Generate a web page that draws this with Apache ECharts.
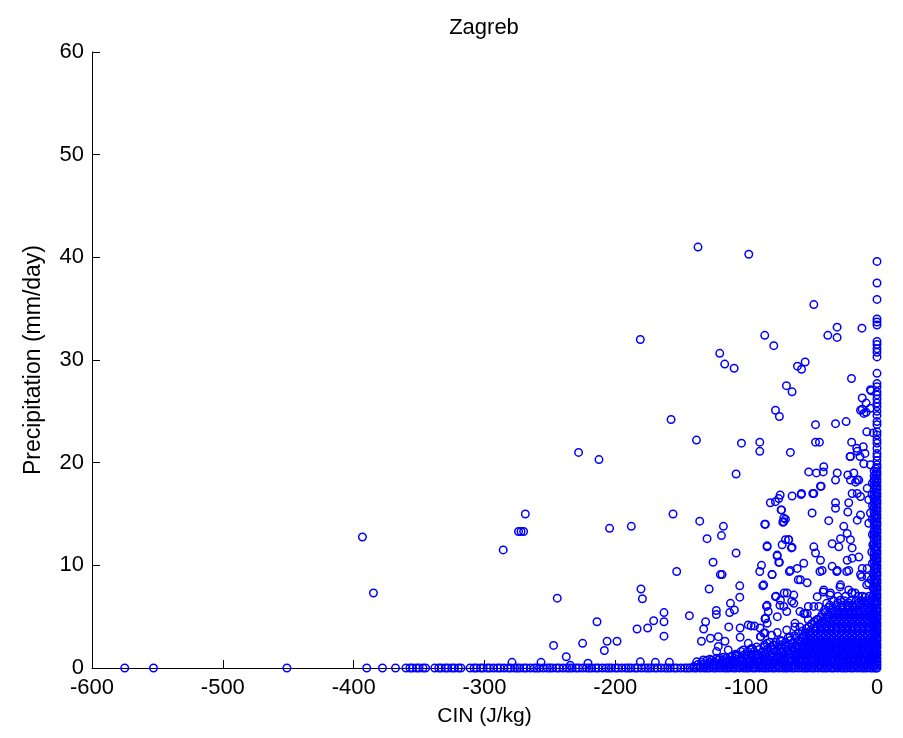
<!DOCTYPE html>
<html><head><meta charset="utf-8">
<script src="https://cdn.jsdelivr.net/npm/echarts@6/dist/echarts.min.js"></script>
<style>html,body{margin:0;padding:0;background:#fff}#c{width:903px;height:738px}</style>
</head><body><div id="c"></div>
<script>
const chartTitle = 'Zagreb';
const xName = 'CIN (J/kg)';
const yName = 'Precipitation (mm/day)';
const xRange = [-600, 0, 100];
const yRange = [0, 60, 10];

// CIN of days with zero precipitation
const zeroPrecipCIN = [-575,-553,-451,-390,-378,-368,-360,-357,
 -355,-352,-350,-347,-345,
 -338,-335,-333,-330,-328,-325,-323,-320,-318,
 -311,-308,-306,-303,-301,-298,-296,-293,
 -290,-288,-285,-282,-280,-277,-275,-273,-270,-268,-265,-262,-260,-258,-255,-252,-250,-248,-245,-243,-240,-237,-235,-233,-230,-228,-225,-222,-220,-218,-215,-213,-210,-207,-205,-203,-200,-198,-195,-192,-190,-188,-185,-183,-180,-177,-175,-173,-170,-168,-165,-162,-160,-158,-155,-153,-150,-147,-145,-143,-140,-138,-135,-132,-130,-128,-125,-123,-120,-117,-115,-113,-110,-108,-105,-102,-100,-98,-95,-93,-90,-87,-85,-83,-80,-78,-75,-72,-70,-68,-65,-63,-60,-57,-55,-53,-50,-48,-45,-42,-40,-38,-35,-33,-30,-27,-25,-23,-20,-18,-15,-12,-10,-8,-5,-3,-1];

// precipitation of days with CIN ~ 0
const zeroCINPrecip = [39.6,37.5,35.9,34.0,33.7,33.4,31.8,31.5,31.1,30.75,30.3,28.7,27.7,27.4,26.9,26.6,26.2,25.8,25.45,25.0,24.6,24.0,23.7,23.0,22.7,22.2,21.9,21.4,20.9,20.6,20.2,19.8,19.5,
 19.1,18.8,18.4,18.1,17.7,17.4,17.0,16.7,16.3,16.0,15.6,15.3,14.9,14.6,14.2,13.9,13.5,13.2,12.8,12.5,12.1,11.8,11.4,11.1,10.7,10.4,10.0,9.7,9.3,9.0,8.6,8.3,7.9,7.6,7.2,6.9,6.5,6.2,5.8,5.5,5.1,4.8,4.4,4.1,3.7,3.4,3.0,2.7,2.3,2.0,1.6,1.3,0.9,0.6,0.3,0];

// precipitation of days with CIN about -1 J/kg
const cinMinus1Precip = [19.4,18.9,18.5,18.0,17.6,17.1,16.7,16.2,15.8,15.4,14.9,14.5,14.0,13.6,13.1,12.7,12.3,11.8,11.4,10.9,10.5,10.0,9.6,9.2,8.7,8.3,7.8,7.4,6.9,6.5,6.1,5.6,5.2,4.7,4.3,3.8,3.4,3.0,2.5,2.1,1.6,1.2,0.8,0.4];

// precipitation of days with CIN about -2 J/kg
const cinMinus2Precip = [19.2,18.7,18.3,17.8,17.4,16.9,16.5,16.1,15.6,15.2,14.8,14.3,13.9,13.4,13.0,12.6,12.1,11.7,11.2,10.8,10.4,9.9,9.5,9.0,8.6,8.2,7.7,7.3,6.8,6.4,6.0,5.5,5.1,4.6,4.2,3.8,3.3,2.9,2.4,2.0,1.6,1.1,0.7,0.3];

// scattered days [CIN, precipitation]
const scatterPoints = [
 [-136.8,41.0],[-98.0,40.3],[-48.3,35.4],[-30.5,33.2],[-11.5,33.1],[-37.6,32.4],[-30.5,32.2],[-180.9,32.0],[-85.8,32.4],[-78.9,31.4],
 [-120.2,30.65],[-116.4,29.6],[-109.2,29.2],[-60.8,29.4],[-57.7,29.1],[-54.9,29.8],[-19.5,28.2],[-69.2,27.5],[-64.9,26.9],[-4.5,27.0],
 [-11.3,26.3],[-8.3,25.8],[-11.3,25.2],[-8.3,24.9],[-77.6,25.1],[-74.6,24.5],[-157.4,24.2],[-47.0,23.7],[-31.7,23.8],[-23.6,24.0],
 [-228.1,21.0],[-212.5,20.3],[-268.8,15.0],[-274.0,13.3],[-272.1,13.3],[-270.1,13.3],[-285.7,11.5],[-204.4,13.6],[-244.4,6.8],[-214,4.5],
 [-247.2,2.2],[-225,2.4],[-237.5,1.1],[-206.3,2.6],[-208.4,1.7],[-198.7,2.6],[-279,0.55],[-256.8,0.55],[-220.9,0.46],[-234.4,0.26],
 [-393.3,12.76],[-384.9,7.3],
 [-138.0,22.2],[-103.6,21.9],[-89.6,22.0],[-89.6,21.1],[-66.2,21.0],[-47.0,22.0],[-44.0,22.0],[-107.7,18.9],[-155.9,15.0],[-187.8,13.8],
 [-135.5,14.3],[-117.4,13.8],[-118.9,12.9],[-129.9,12.6],[-107.7,11.2],[-153.1,9.4],[-180.4,7.7],[-179.3,6.75],[-125.3,10.3],[-119.7,9.1],
 [-118.4,9.1],[-128.3,7.7],[-104.9,8.0],[-104.9,6.9],[-112.0,6.3],[-109.0,5.65],[-112.6,5.4],[-143.4,5.1],[-162.8,5.4],[-162.8,4.5],
 [-162.8,3.1],[-170.7,4.6],[-175.3,3.9],[-183.4,3.8],[-122.8,5.6],[-122.8,5.2],[-131,4.5],[-132.5,3.8],[-134.2,2.6],[-127.3,2.9],
 [-180.9,0.6],[-169.4,0.55],[-158.7,0.55],[-96.2,4.1],[-93.7,4.1],[-98.4,4.2],[-104.6,3.9],[-104.6,3.0],[-113.3,4.0],
 [-85.8,14.0],[-84.0,11.9],[-87.3,8.0],[-88.3,10.0],[-89.6,9.4],[-80.2,9.1],[-76.3,11.0],[-74.6,10.3],[-72.5,12.0],[-65.4,11.7],
 [-67.5,12.5],[-73.0,15.4],[-70.0,14.5],[-72.0,14.2],[-81.5,16.1],[-75.1,16.5],[-74.0,16.85],[-64.9,16.75],[-57.7,17.0],[-49.1,17.0],
 [-42.7,17.7],[-40.7,19.6],[-52.2,19.1],[-46.3,19.0],[-41.1,19.1],[-30.4,19.0],[-31.7,18.3],[-22.3,18.8],[-17.7,19.0],[-15.1,18.3],
 [-20.3,18.3],[-16.4,18.1],[-13.9,18.3],
 [-20.3,20.6],[-15.1,21.1],[-10.1,19.9],[-5,19.8],[-43.2,17.7],[-48.3,17.0],[-58.0,16.9],[-77.6,16.2],[-73.3,15.4],[-71.3,14.6],
 [-71.3,14.25],[-85.3,14.0],[-49.6,15.1],[-36.9,14.35],[-31.7,16.1],[-31.7,15.55],[-21.6,16.1],[-22.3,15.2],[-19.0,17.0],[-15.1,17.0],
 [-12.6,16.7],[-7.5,17.5],[-6.3,16.4],[-12.6,14.9],[-15.1,14.4],[-5.0,15.1],[-6.3,14.1],[-25.4,13.8],[-22.8,13.1],[-27.9,12.6],
 [-34.3,12.1],[-20.3,12.5],[-29.2,11.8],[-19.0,11.7],[-84.0,11.8],[-70.0,12.5],[-67.5,12.5],[-64.9,11.75],[-76.3,10.9],[-75.1,10.3],
 [-48.3,11.8],[-47.0,11.2],[-43.2,10.5],[-41.9,9.5],[-56.0,10.2],[-61.0,9.7],[-66.2,9.5],[-80.2,9.1],[-86.6,8.1],[-58.5,8.6],
 [-53.4,8.3],[-34.3,9.9],[-30.4,9.5],[-21.6,9.5],[-22.8,10.5],[-19.0,10.7],[-13.9,10.8],[-11.3,9.7],[-7.5,9.7],[-12.6,9.1],
 [-7.5,8.9],[-6.3,8.25],[-27.9,8.1],[-21.6,7.6],[-19.0,7.3],[-40.7,7.6],[-35.6,7.3],[-27.9,6.6],[-68.7,7.3],[-77.6,6.95],
 [-63.6,7.1],[-73.8,6.6],[-84.0,6.1],[-71.3,6.0],[-85.3,4.8],[-63.6,6.3],[-56.0,5.3],[-48.3,6.0],[-45.7,6.95],[-44.5,6.0],
 [-5,27.1],[-12.6,25.1],[-10,24.8],[-5,25.3],[-19.4,22.0],[-15.5,21.4],[-10.5,21.55],[-7.8,23.0],[-2.8,22.9],[-20.6,20.6],
 [-13,20.6],[-9.2,20.9],
 [-67,9.4],[-60.2,8.6],[-43.6,9.4],[-30.8,9.4],[-23.2,9.4],[-11.7,8.9],[-7.9,8.1],[-2.8,9.1],[-77.2,7.0],[-70.9,7.3],
 [-65.2,6.5],[-74.2,6.1],[-83.1,5.5],[-76.2,5.0],[-69.0,5.5],[-52.5,6.0],[-58.9,5.5],[-55.0,5.3],[-53.3,5.3],[-41.1,7.4],
 [-35.9,7.1],[-28.3,7.9],[-19.3,7.3],[-16.8,7.3],[-9.2,6.9],[-38.5,6.3],[-15.5,6.1],[-21.9,6.1],
 [-121.3,3.05],[-116.2,2.6],[-121.3,2.1],[-113.7,1.75],[-122.6,1.6],[-85.6,4.8],[-83.9,4.35],[-89.4,3.9],[-85.6,3.4],[-88.9,3.05],
 [-80.5,3.2],[-76.2,3.45],[-72.9,2.6],[-69.0,3.7],[-66.5,3.05],[-79.3,2.25],[-71.6,1.6],[-95.8,1.9],[-90.7,1.3],[-85.6,1.4],
 [-62.7,4.35],[-62.7,4.0],[-58.9,4.0],[-55,3.4],[-51.2,2.7],[-48.7,3.9],[-46.1,4.7],[-52.5,4.7],[-55.0,2.1],[-58.9,1.4],
 [-66.5,1.4],[-61.4,2.1],[-98.4,2.4],[-102.2,1.75],[-107.3,1.3],[-112.4,1.04],[-117.5,1.04],[-122.6,0.94],[-127.7,0.85],[-132.8,0.78],
 [-137.8,0.6],[-84.5,6.0],[-85.3,4.85],[-86.6,3.4],[-89.1,3.05],[-84.0,2.4],[-95.4,1.9],
 [-3,7.8],[-4.5,8.6],[-3.5,10.2],[-4,11.3],[-3.2,12.0],[-3.5,13.0],[-3.6,14.5],[-3.4,15.8],[-3.8,16.9],[-3.5,18.0]
];

// dense cloud close to the origin: one precipitation level per row, CIN values per row
const denseRowPrecip = [0.15,0.35,0.55,0.75,0.95,1.15,1.35,1.6,1.8,2.05,2.25,2.5,2.7,2.95,3.15,3.4,3.6,3.85,4.05,4.3,4.5,4.75,4.95,5.2,5.4,5.65,5.9,6.1,6.35,6.55,7.0];
const denseRowCIN = [
 [-140,-135,-131,-126,-122,-118,-114,-110,-106,-102,-98,-94,-90,-86,-82,-78,-74,-70,-66,-62,-58,-54,-50,-46,-42,-38,-34,-30,-26,-22,-18,-14,-10,-6,-2],
 [-137,-133,-128.5,-125,-120,-116.5,-112,-108,-103.5,-100,-95.5,-92,-87.5,-84,-79.5,-76,-71.5,-68,-63.5,-60,-55.5,-52,-47.5,-44,-39.5,-36,-31.5,-28,-23.5,-20,-15.5,-12,-7.5,-4],
 [-134,-128,-124,-119,-115,-111,-107,-103,-99,-95,-91,-87,-83,-79,-75,-71,-67,-63,-59,-55,-51,-47,-43,-39,-35,-31,-27,-23,-19,-15,-11,-7,-3],
 [-130,-126,-121.5,-118,-113.5,-110,-105.5,-102,-97.5,-94,-89.5,-86,-81.5,-78,-73.5,-70,-65.5,-62,-57.5,-54,-49.5,-46,-41.5,-38,-33.5,-30,-25.5,-22,-17.5,-14,-9.5,-6,-2.5],
 [-120,-115,-109,-104,-99,-95,-90,-86,-80,-76,-72,-67,-62,-58,-54,-50,-46,-42,-38,-34,-30,-26,-22,-18,-14,-10,-6,-2],
 [-111,-107.5,-101,-96.5,-92.5,-88,-82,-78.5,-74,-69.5,-64,-60.5,-56,-51.5,-48,-43.5,-40,-35.5,-32,-27.5,-24,-19.5,-16,-11.5,-8,-3.5],
 [-108,-101,-96,-91,-85,-80,-75,-71,-66,-61,-57,-53,-49,-45,-41,-37,-33,-29,-25,-21,-17,-13,-9,-5,-1.5],
 [-104,-99,-94,-87,-83,-77,-73,-68,-63,-59,-55,-51,-47,-43,-39,-35,-31,-27,-23,-19,-15,-11,-7,-3],
 [-97,-90,-84,-79,-74,-68,-64,-60,-55,-51,-47,-43,-39,-35,-31,-27,-23,-19,-15,-11,-7,-3],
 [-92,-86,-81,-76,-70,-65,-61,-57,-53,-49,-45,-41,-37,-33,-29,-25,-21,-17,-13,-9,-5],
 [-86,-79,-73,-67,-62,-57,-53,-49,-45,-41,-37,-33,-29,-25,-21,-17,-13,-9,-5,-1.5],
 [-82,-77,-70,-64,-59,-55,-51,-47,-43,-39,-35,-31,-27,-23,-19,-15,-11,-7,-3],
 [-74,-66,-60,-55,-51,-47,-43,-39,-35,-31,-27,-23,-19,-15,-11,-7,-3],
 [-68,-62,-57,-53,-49,-45,-41,-37,-33,-29,-25,-21,-17,-13,-9,-5],
 [-63,-56,-51,-47,-43,-39,-35,-31,-27,-23,-19,-15,-11,-7,-3.5],
 [-60,-53,-49,-45,-41,-37,-33,-29,-25,-21,-17,-13,-9,-5,-2],
 [-57,-51,-47,-43,-39,-35,-31,-27,-23,-19,-15,-11,-7,-3],
 [-54,-47,-43,-39,-35,-31,-27,-23,-19,-15,-11,-7,-3],
 [-52,-46,-42,-38,-34,-30,-26,-22,-18,-14,-10,-6,-2],
 [-50,-44,-40,-36,-32,-28,-24,-20,-16,-12,-8,-4],
 [-48,-42,-37,-33,-29,-25,-21,-17,-13,-9,-5,-1.5],
 [-45,-39,-35,-31,-27,-23,-19,-15,-11,-7,-3],
 [-43,-37,-33,-29,-25,-21,-17,-13,-9,-5,-1.5],
 [-42,-37,-33,-29,-25,-21,-17,-13,-9,-5],
 [-40,-35,-31,-27,-23,-19,-15,-11,-7,-3],
 [-40,-34,-30,-26,-22,-18,-14,-10,-6,-2.5],
 [-37,-28,-21,-17,-11,-7,-3],
 [-36,-31,-27,-23,-19,-13,-9,-5],
 [-30,-22,-14,-10,-6,-2],
 [-33,-25,-20,-16,-12,-8,-4],
 [-30,-24,-14,-11,-6,-3]
];

const FONT = '"Liberation Sans", Arial, Helvetica, sans-serif';
const data = [];
zeroPrecipCIN.forEach(x => data.push([x, 0]));
zeroCINPrecip.forEach(y => data.push([0, y]));
cinMinus1Precip.forEach(y => data.push([-1.1, y]));
cinMinus2Precip.forEach(y => data.push([-2.2, y]));
scatterPoints.forEach(p => data.push(p));
denseRowCIN.forEach((row, i) => row.forEach(x => data.push([x, denseRowPrecip[i]])));

const chart = echarts.init(document.getElementById('c'), null, {renderer: 'canvas'});
chart.setOption({
  animation: false,
  backgroundColor: '#fff',
  title: {
    text: chartTitle, left: 479, top: 12, textAlign: 'center',
    textStyle: {fontFamily: FONT, fontSize: 22, fontWeight: 'normal', color: '#000'}
  },
  grid: {left: 92, right: 26, top: 52, bottom: 70, containLabel: false},
  xAxis: {
    type: 'value', min: xRange[0], max: xRange[1], interval: xRange[2],
    name: xName, nameLocation: 'middle', nameGap: 38,
    nameTextStyle: {fontFamily: FONT, fontSize: 21, color: '#000'},
    axisLine: {onZero: false, lineStyle: {color: '#000', width: 1}},
    axisTick: {inside: true, length: 8, lineStyle: {color: '#000', width: 1}},
    splitLine: {show: false},
    axisLabel: {fontFamily: FONT, fontSize: 22, color: '#000', margin: 9, showMinLabel: true, showMaxLabel: true}
  },
  yAxis: {
    type: 'value', min: yRange[0], max: yRange[1], interval: yRange[2],
    name: yName, nameLocation: 'middle', nameGap: 47,
    nameTextStyle: {fontFamily: FONT, fontSize: 23, color: '#000'},
    axisLine: {show: true, onZero: false, lineStyle: {color: '#000', width: 1}},
    axisTick: {show: true, inside: true, length: 8, lineStyle: {color: '#000', width: 1}},
    splitLine: {show: false},
    axisLabel: {fontFamily: FONT, fontSize: 22, color: '#000', margin: 8, showMinLabel: true, showMaxLabel: true}
  },
  series: [{
    type: 'scatter', data: data, symbol: 'circle', symbolSize: 7.5,
    clip: false, silent: true, progressive: 0, large: false,
    itemStyle: {color: 'rgba(0,0,0,0)', borderColor: '#0000ff', borderWidth: 1.5, opacity: 1},
    emphasis: {disabled: true}
  }]
});
</script>
</body></html>
